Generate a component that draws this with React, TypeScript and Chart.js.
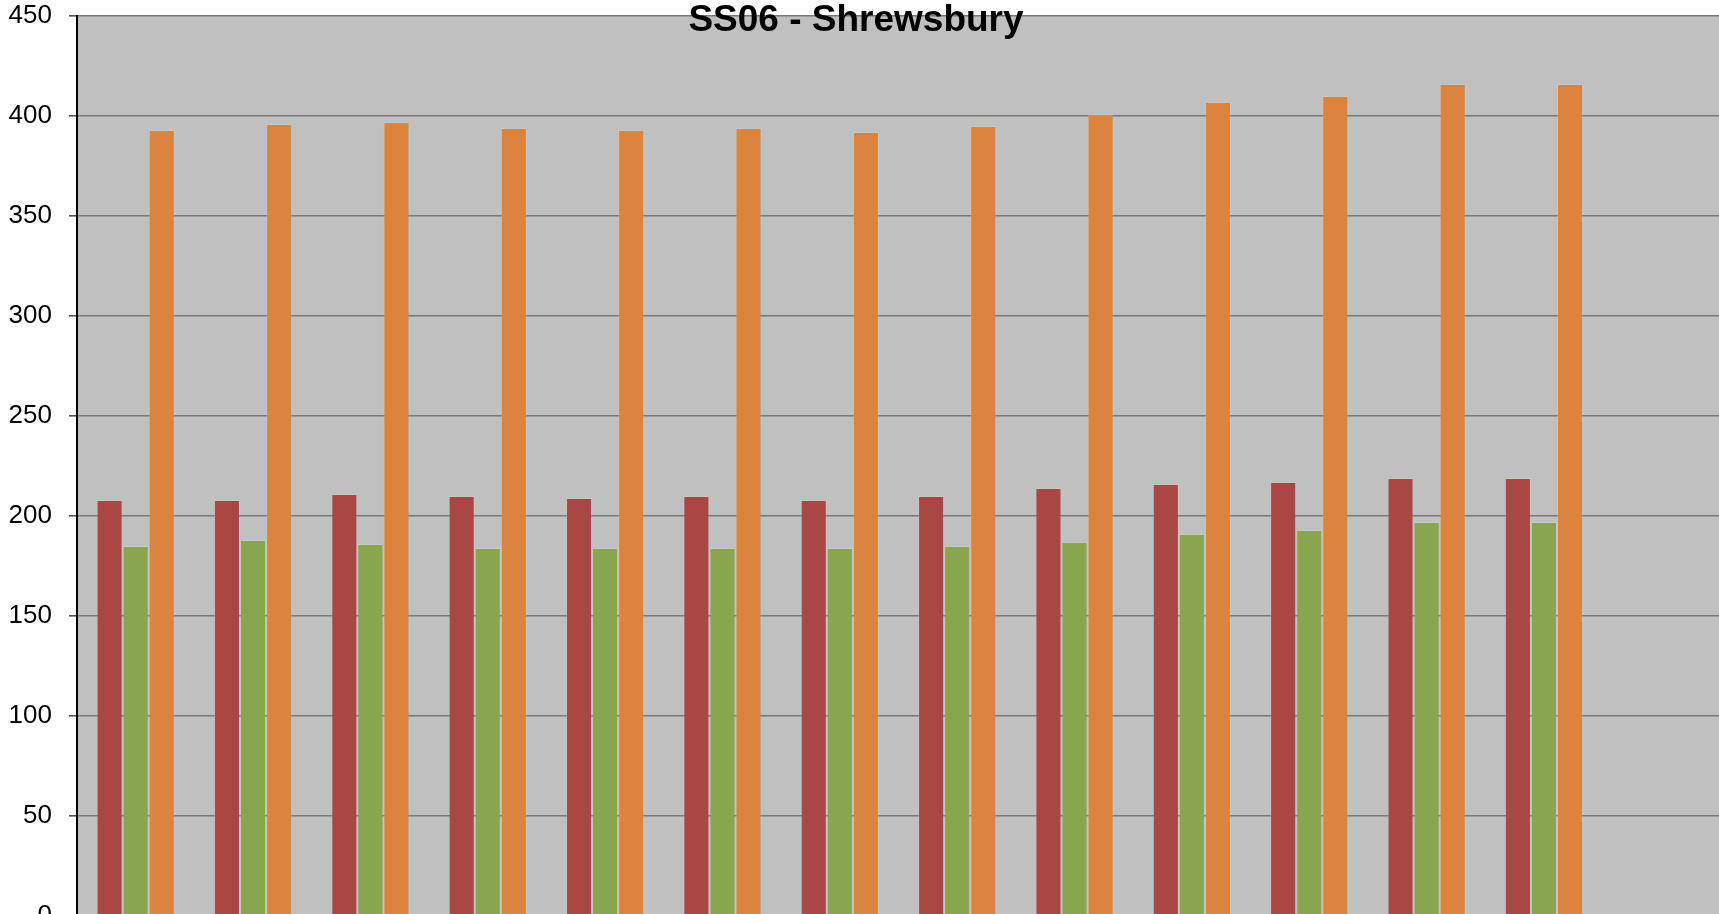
import React, { useEffect, useRef } from "react";
import { Chart, registerables } from "chart.js";

Chart.register(...registerables);

const titleText = "SS06 - Shrewsbury";
const categories = ["1", "2", "3", "4", "5", "6", "7", "8", "9", "10", "11", "12", "13", "14"];
const redValues = [208, 208, 211, 210, 209, 210, 208, 210, 214, 216, 217, 219, 219, null];
const greenValues = [185, 188, 186, 184, 184, 184, 184, 185, 187, 191, 193, 197, 197, null];
const orangeValues = [393, 396, 397, 394, 393, 394, 392, 395, 401, 407, 410, 416, 416, null];
const yTicks = [0, 50, 100, 150, 200, 250, 300, 350, 400, 450];

const bgPlugin = {
  id: "plotBg",
  beforeDraw(chart: any) {
    const { ctx, chartArea } = chart;
    ctx.save();
    ctx.fillStyle = "#C0C0C0";
    ctx.fillRect(chartArea.left, chartArea.top, chartArea.right - chartArea.left, chartArea.bottom - chartArea.top);
    ctx.restore();
  },
};

const titlePlugin = {
  id: "overTitle",
  afterDraw(chart: any) {
    const { ctx } = chart;
    ctx.save();
    ctx.font = "bold 37px 'Liberation Sans', Arial, sans-serif";
    ctx.fillStyle = "#000";
    ctx.textAlign = "center";
    ctx.textBaseline = "alphabetic";
    ctx.fillText(titleText, 856, 31);
    ctx.restore();
  },
};

export default function App() {
  const ref = useRef<HTMLCanvasElement | null>(null);
  useEffect(() => {
    if (!ref.current) return;
    const chart = new Chart(ref.current, {
      type: "bar",
      data: {
        labels: categories,
        datasets: [
          { label: "A", data: redValues, backgroundColor: "#AA4643", borderColor: "rgba(255,255,255,0.12)", borderWidth: 1 },
          { label: "B", data: greenValues, backgroundColor: "#89A54E", borderColor: "rgba(255,255,255,0.12)", borderWidth: 1 },
          { label: "C", data: orangeValues, backgroundColor: "#DB843D", borderColor: "rgba(255,255,255,0.12)", borderWidth: 1 },
        ],
      },
      options: {
        animation: false,
        responsive: false,
        maintainAspectRatio: false,
        layout: { padding: 0 },
        plugins: { legend: { display: false }, title: { display: false }, tooltip: { enabled: false } },
        datasets: { bar: { categoryPercentage: 0.6667, barPercentage: 1 } },
        scales: {
          x: { display: false },
          y: {
            min: 0,
            max: 450,
            afterBuildTicks(scale: any) {
              scale.ticks = yTicks.map((v) => ({ value: v }));
            },
            afterFit(scale: any) {
              scale.width = 77;
              scale.paddingTop = 16;
              scale.paddingBottom = 44;
            },
            ticks: {
              color: "#000",
              padding: 17,
              font: { family: "'Liberation Sans', Arial, sans-serif", size: 26 },
            },
            grid: { color: "#787878", lineWidth: 1.6, tickLength: 8, tickColor: "#555" },
            border: { display: true, color: "#000", width: 2 },
          },
        },
      },
      plugins: [bgPlugin, titlePlugin],
    });
    return () => chart.destroy();
  }, []);
  return (
    <div style={{ position: "fixed", left: 0, top: 0, width: 1719, height: 914, overflow: "hidden", background: "#fff" }}>
      <canvas ref={ref} width={1720} height={960} style={{ display: "block" }} />
    </div>
  );
}
